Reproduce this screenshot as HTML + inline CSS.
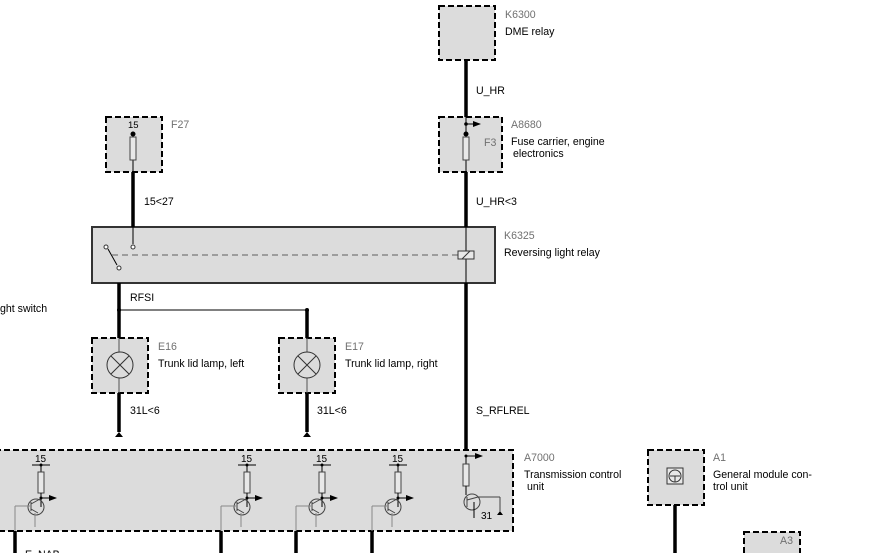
<!DOCTYPE html>
<html><head><meta charset="utf-8"><style>
body{margin:0;background:#fff}
svg{display:block}
text{font-family:"Liberation Sans",Arial,sans-serif;font-size:10.6px;fill:#000}
.g{fill:#707070}
</style></head><body>
<svg width="891" height="553" viewBox="0 0 891 553" xmlns="http://www.w3.org/2000/svg">
<defs>
<marker id="ar" markerWidth="8" markerHeight="8" refX="7" refY="4" orient="auto" markerUnits="userSpaceOnUse"><path d="M0,1 L8,4 L0,7z" fill="#000"/></marker>
</defs>
<g fill="#dcdcdc" stroke="#000" stroke-width="2" stroke-dasharray="6,3">
<rect x="439" y="6" width="56" height="54"/>
<rect x="439" y="117" width="63" height="55"/>
<rect x="106" y="117" width="56" height="55"/>
<rect x="92" y="338" width="56" height="55"/>
<rect x="279" y="338" width="56" height="55"/>
<rect x="-5" y="450" width="518" height="81"/>
<rect x="648" y="450" width="56" height="55"/>
<rect x="744" y="532" width="56" height="40"/>
</g>
<rect x="92" y="227" width="403" height="56" fill="#dcdcdc" stroke="#333" stroke-width="2"/>
<g stroke="#000" stroke-width="3.5" fill="none">
<line x1="466" y1="60" x2="466" y2="117"/>
<line x1="466" y1="172" x2="466" y2="227"/>
<line x1="466" y1="283" x2="466" y2="450"/>
<line x1="133" y1="172" x2="133" y2="227"/>
<line x1="119" y1="283" x2="119" y2="338"/>
<line x1="119" y1="393" x2="119" y2="432"/>
<line x1="307" y1="310" x2="307" y2="338"/>
<line x1="307" y1="393" x2="307" y2="432"/>
<line x1="15" y1="531" x2="15" y2="553"/>
<line x1="221" y1="531" x2="221" y2="553"/>
<line x1="296" y1="531" x2="296" y2="553"/>
<line x1="372" y1="531" x2="372" y2="553"/>
<line x1="675" y1="505" x2="675" y2="553"/>
</g>
<g stroke="#000" stroke-width="1" fill="none">
<line x1="466" y1="117" x2="466" y2="172"/>
<line x1="466" y1="227" x2="466" y2="283"/>
<line x1="133" y1="132" x2="133" y2="172"/>
<line x1="133" y1="227" x2="133" y2="244"/>
<line x1="119" y1="310" x2="307" y2="310"/>
<line x1="466" y1="124" x2="480" y2="124" marker-end="url(#ar)"/>
<line x1="108" y1="249" x2="117" y2="265"/>
</g>
<g fill="#000"><circle cx="466" cy="124" r="1.8"/><circle cx="119" cy="310" r="2"/><circle cx="307" cy="310" r="2"/>
<circle cx="133" cy="134" r="2.5"/><circle cx="466" cy="134" r="2.5"/></g>
<g fill="#e8e8e8" stroke="#444" stroke-width="1">
<rect x="130" y="137" width="6" height="23"/><rect x="463" y="137" width="6" height="23"/>
</g>
<line x1="112" y1="255" x2="458" y2="255" stroke="#888" stroke-width="1.5" stroke-dasharray="6,4"/>
<rect x="458" y="251" width="16" height="8" fill="#e8e8e8" stroke="#333"/>
<line x1="462" y1="259" x2="470" y2="251" stroke="#333"/>
<g fill="#fff" stroke="#333"><circle cx="106" cy="247" r="2"/><circle cx="133" cy="247" r="2"/><circle cx="119" cy="268" r="2"/></g>
<g stroke="#555" stroke-width="1" fill="none">
<line x1="119" y1="338" x2="119" y2="393"/><line x1="307" y1="338" x2="307" y2="393"/>
</g>
<g stroke="#333" stroke-width="1" fill="#dcdcdc">
<circle cx="120" cy="365" r="13"/><circle cx="307" cy="365" r="13"/>
<path d="M111,356 L129,374 M129,356 L111,374 M298,356 L316,374 M316,356 L298,374" fill="none"/>
</g>
<g fill="#000"><path d="M115,437 L119,432 L123,437z"/><path d="M303,437 L307,432 L311,437z"/><path d="M497,515 L500,511 L503,515z"/></g>
<g id="st" stroke-width="1" fill="none">
<text x="35" y="462" style="font-size:10px">15</text>
<line x1="32" y1="465" x2="50" y2="465" stroke="#000"/>
<circle cx="41" cy="465" r="1.5" fill="#000"/>
<line x1="41" y1="465" x2="41" y2="472" stroke="#000"/>
<rect x="38" y="472" width="6" height="21" fill="#e8e8e8" stroke="#444"/>
<line x1="41" y1="493" x2="41" y2="507" stroke="#000"/>
<circle cx="41" cy="498" r="1.5" fill="#000"/>
<line x1="41" y1="498" x2="56" y2="498" stroke="#000" marker-end="url(#ar)"/>
<circle cx="36" cy="507" r="8" stroke="#444"/>
<line x1="15" y1="531" x2="15" y2="506" stroke="#888"/>
<line x1="15" y1="506" x2="30" y2="506" stroke="#888"/>
<line x1="31" y1="502" x2="31" y2="511" stroke="#444"/>
<line x1="31" y1="504" x2="40" y2="499" stroke="#444"/>
<line x1="31" y1="509" x2="38" y2="513" stroke="#444"/>
<line x1="35" y1="513" x2="35" y2="527" stroke="#888"/>
</g>
<use href="#st" x="206"/><use href="#st" x="281"/><use href="#st" x="357"/>
<g stroke-width="1" fill="none">
<circle cx="466" cy="456" r="1.5" fill="#000"/>
<line x1="466" y1="456" x2="482" y2="456" stroke="#000" marker-end="url(#ar)"/>
<line x1="466" y1="456" x2="466" y2="464" stroke="#000"/>
<rect x="463" y="464" width="6" height="22" fill="#e8e8e8" stroke="#444"/>
<line x1="466" y1="486" x2="466" y2="495" stroke="#000"/>
<circle cx="472" cy="502" r="8" stroke="#444"/>
<line x1="467" y1="497" x2="467" y2="507" stroke="#444"/>
<line x1="467" y1="500" x2="478" y2="497" stroke="#444"/>
<line x1="478" y1="497" x2="500" y2="497" stroke="#444"/>
<line x1="500" y1="497" x2="500" y2="512" stroke="#444"/>
<line x1="474" y1="502" x2="474" y2="518" stroke="#000"/>
</g>
<rect x="667" y="468" width="16" height="16" fill="#e8e8e8" stroke="#333"/>
<circle cx="675" cy="476" r="6" fill="none" stroke="#333"/>
<path d="M670,476 L680,476 M675,476 L675,482" stroke="#333"/>
<text x="505" y="18" class="g">K6300</text>
<text x="505" y="35">DME relay</text>
<text x="476" y="94">U_HR</text>
<text x="511" y="128" class="g">A8680</text>
<text x="484" y="146" class="g">F3</text>
<text x="511" y="145">Fuse carrier, engine</text>
<text x="513" y="157">electronics</text>
<text x="171" y="128" class="g">F27</text>
<text x="128" y="128" style="font-size:9.5px">15</text>
<text x="144" y="205">15&lt;27</text>
<text x="476" y="205">U_HR&lt;3</text>
<text x="504" y="239" class="g">K6325</text>
<text x="504" y="256">Reversing light relay</text>
<text x="0" y="312">ght switch</text>
<text x="130" y="301">RFSI</text>
<text x="158" y="350" class="g">E16</text>
<text x="158" y="367">Trunk lid lamp, left</text>
<text x="345" y="350" class="g">E17</text>
<text x="345" y="367">Trunk lid lamp, right</text>
<text x="130" y="414">31L&lt;6</text>
<text x="317" y="414">31L&lt;6</text>
<text x="476" y="414">S_RFLREL</text>
<text x="481" y="519" style="font-size:10px">31</text>
<text x="524" y="461" class="g">A7000</text>
<text x="524" y="478">Transmission control</text>
<text x="527" y="490">unit</text>
<text x="713" y="461" class="g">A1</text>
<text x="713" y="478">General module con-</text>
<text x="713" y="490">trol unit</text>
<text x="780" y="544" class="g">A3</text>
<text x="25" y="558">E_NAB</text>
</svg>
</body></html>
